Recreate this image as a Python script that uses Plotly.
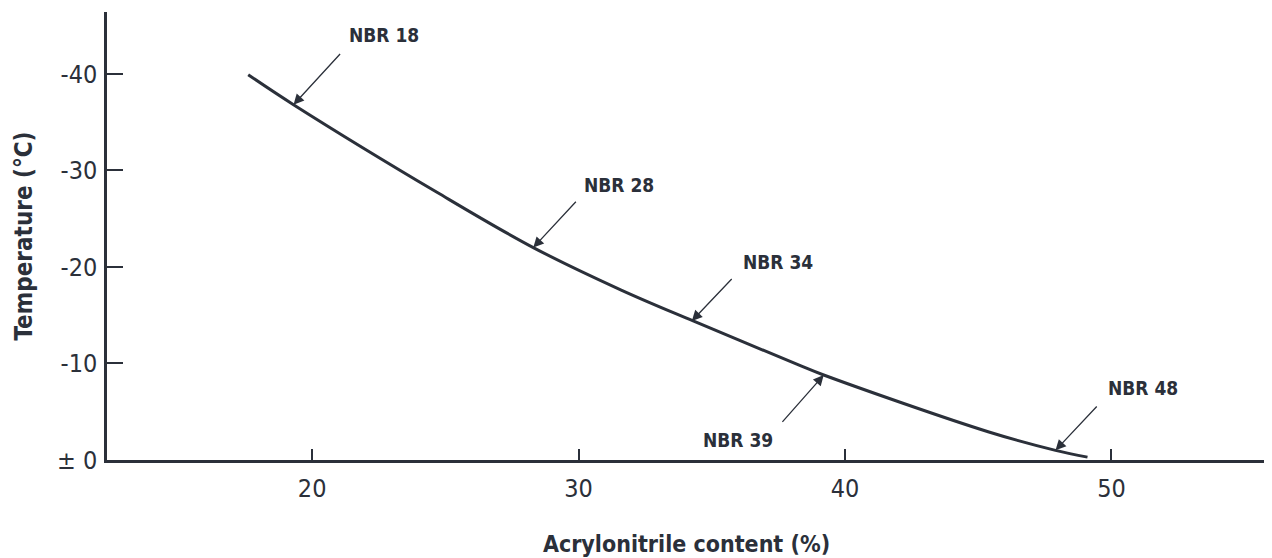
import plotly.graph_objects as go

# Curve data
acn = [17.6, 19.3, 24.7, 28.3, 31.6, 34.3, 38.3, 39.2, 45.4, 47.9, 49.1]
temp = [-39.9, -36.8, -27.7, -22.0, -17.6, -14.4, -9.8, -8.8, -2.9, -1.0, -0.3]

# Grade labels: arrow tip on the curve, arrow tail, label position
grades = ["NBR 18", "NBR 28", "NBR 34", "NBR 39", "NBR 48"]
tip_x = [19.3, 28.3, 34.25, 39.2, 47.9]
tip_y = [-36.8, -22.0, -14.4, -8.8, -1.0]
tail_x = [21.1, 29.95, 35.8, 37.6, 49.5]
tail_y = [-42.2, -26.9, -18.9, -3.8, -5.7]
lab_x = [22.7, 31.5, 37.5, 36.0, 51.2]
lab_y = [-44.0, -28.5, -20.5, -2.1, -7.5]

xticks = [20, 30, 40, 50]
yticks = [-40, -30, -20, -10, 0]
yticktext = ["-40", "-30", "-20", "-10", "± 0"]

INK = "#2b303a"
FONT = "DejaVu Sans Condensed, Liberation Sans Narrow, sans-serif"

fig = go.Figure()
fig.add_trace(go.Scatter(x=acn, y=temp, mode="lines", line=dict(color=INK, width=3, shape="spline", smoothing=1.0),
                         showlegend=False, hoverinfo="skip"))

annotations = []
for g, tx, ty, ax, ay, lx, ly in zip(grades, tip_x, tip_y, tail_x, tail_y, lab_x, lab_y):
    annotations.append(dict(x=tx, y=ty, ax=ax, ay=ay, xref="x", yref="y", axref="x", ayref="y",
                            text="", showarrow=True, arrowhead=2, arrowsize=1.6, arrowwidth=1.3,
                            arrowcolor=INK, standoff=0))
    annotations.append(dict(x=lx, y=ly, xref="x", yref="y", text="<b>%s</b>" % g, showarrow=False,
                            font=dict(family=FONT, size=19, color=INK)))

fig.update_layout(
    width=1264, height=550,
    margin=dict(l=99, r=6, t=4, b=98),
    paper_bgcolor="white", plot_bgcolor="white",
    font=dict(family=FONT, color=INK),
    annotations=annotations,
    xaxis=dict(range=[12.3, 55.8], tickvals=xticks, ticks="inside", ticklen=11, tickwidth=2, tickcolor=INK,
               showline=True, linecolor=INK, linewidth=2.5, showgrid=False, zeroline=False, automargin=False,
               tickfont=dict(family=FONT, size=25, color=INK), ticklabelstandoff=4,
               title=dict(text="<b>Acrylonitrile content (%)</b>", font=dict(family=FONT, size=23, color=INK), standoff=35)),
    yaxis=dict(range=[0, -46.4], tickvals=yticks, ticktext=yticktext, ticks="inside", ticklen=16, tickwidth=2,
               tickcolor=INK, showline=True, linecolor=INK, linewidth=2.5, showgrid=False, zeroline=False, automargin=False,
               tickfont=dict(family=FONT, size=25, color=INK), ticklabelstandoff=2,
               title=dict(text="<b>Temperature (°C)</b>", font=dict(family=FONT, size=24, color=INK), standoff=18)),
)

fig.write_html("out.html")
